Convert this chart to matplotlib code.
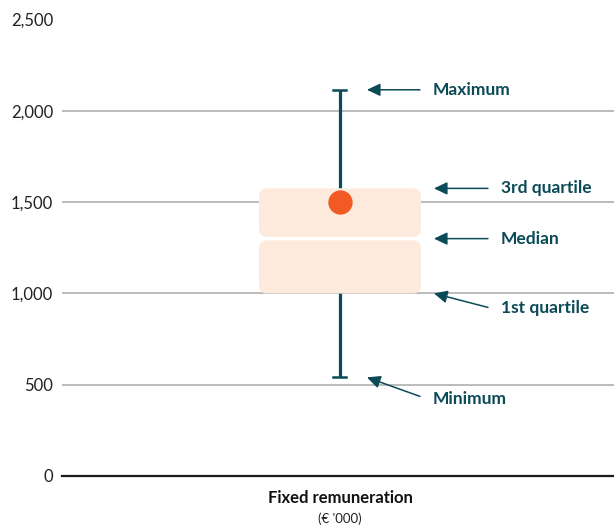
import matplotlib
matplotlib.use("Agg")
import matplotlib.pyplot as plt
from matplotlib.patches import FancyBboxPatch

plt.rcParams['font.family'] = ['Lato', 'DejaVu Sans']

# Summary statistics of fixed remuneration (€ '000)
category = "Fixed remuneration"
unit_label = "(€ '000)"
minimum = 540
q1 = 1000
median = 1300
q3 = 1575
maximum = 2115
mean = 1500

y_ticks = [0, 500, 1000, 1500, 2000, 2500]
y_tick_labels = ["0", "500", "1,000", "1,500", "2,000", "2,500"]

stat_names = ["Maximum", "3rd quartile", "Median", "1st quartile", "Minimum"]

TEAL = "#0b4a57"
BOX = "#fdeadd"
DOT = "#f15a22"
GRID = "#b5b5b5"

W, H, DPI = 6.14, 5.26, 100
fig = plt.figure(figsize=(W, H), dpi=DPI)
left, right = 62 / 614, 1.0
bottom, top = 1 - 476 / 526, 1 - 19.5 / 526
ax = fig.add_axes([left, bottom, right - left, top - bottom])

xlim = (-1.0, 0.986)
ylim = (0, 2500)
ax.set_xlim(*xlim)
ax.set_ylim(*ylim)

# data units per pixel, for rounded corners with equal radius in both directions
ax_w_px = (right - left) * W * DPI
ax_h_px = (top - bottom) * H * DPI
xpp = (xlim[1] - xlim[0]) / ax_w_px
ypp = (ylim[1] - ylim[0]) / ax_h_px
aspect = ypp / xpp

# grid and baseline
for t in y_ticks[1:]:
    ax.axhline(t, color=GRID, lw=1.3, zorder=0)
ax.axhline(0, color="#1a1a1a", lw=1.6, zorder=1, clip_on=False)

for s in ax.spines.values():
    s.set_visible(False)
ax.set_yticks(y_ticks, labels=y_tick_labels)
ax.tick_params(axis='y', length=0, pad=6.5, labelsize=12, labelcolor="#222222")
ax.set_xticks([])

# whiskers
cx = 0.0
cap_half = 6.5 * xpp
ax.plot([cx, cx], [q3, maximum], color=TEAL, lw=2.3, zorder=2, solid_capstyle='butt')
ax.plot([cx, cx], [minimum, q1], color=TEAL, lw=2.3, zorder=2, solid_capstyle='butt')
ax.plot([cx - cap_half, cx + cap_half], [maximum, maximum], color=TEAL, lw=1.8, zorder=2)
ax.plot([cx - cap_half, cx + cap_half], [minimum, minimum], color=TEAL, lw=1.8, zorder=2)

# box halves, split at the median
half_w = 81 * xpp
gap = 1.7 * ypp
radius = 8 * xpp
for y0, y1 in [(median + gap, q3), (q1, median - gap)]:
    p = FancyBboxPatch((cx - half_w, y0), 2 * half_w, y1 - y0,
                       boxstyle=f"round,pad=0,rounding_size={radius}",
                       mutation_aspect=aspect, facecolor=BOX, edgecolor='none', zorder=3)
    ax.add_patch(p)

# mean marker
ax.plot([cx], [mean], 'o', ms=17.5, color=DOT, mec='none', zorder=4)

# annotations
arrow_kw = dict(arrowstyle="-|>,head_length=0.8,head_width=0.38", color=TEAL,
                lw=1.1, mutation_scale=10, shrinkA=0, shrinkB=0)
stat_values = [maximum, q3, median, q1, minimum]
for name, val in zip(stat_names, stat_values):
    if name in ("Maximum", "Minimum"):
        hx, tx, lx = 27 * xpp, 80 * xpp, 93 * xpp
    else:
        hx, tx, lx = 94 * xpp, 148 * xpp, 161 * xpp
    if name == "Minimum":
        dy, ly = -19 * ypp, -22 * ypp
    elif name == "1st quartile":
        dy, ly = -14 * ypp, -15 * ypp
    else:
        dy, ly = 0, 0
    ax.annotate("", xy=(hx, val), xytext=(tx, val + dy), arrowprops=arrow_kw, zorder=5)
    ax.text(lx, val + ly, name, color=TEAL, fontsize=12.5, fontweight='bold',
            ha='left', va='center', zorder=5)

# category label under the axis
ax.annotate(category, xy=(cx, 0), xycoords=('data', 'axes fraction'),
            xytext=(0, -15.5), textcoords='offset points', ha='center', va='center',
            fontsize=12, fontweight='bold', color="#111111", annotation_clip=False)
ax.annotate(unit_label, xy=(cx, 0), xycoords=('data', 'axes fraction'),
            xytext=(0, -30.5), textcoords='offset points', ha='center', va='center',
            fontsize=9.5, color="#222222", annotation_clip=False)

fig.savefig("out.png", dpi=DPI)
